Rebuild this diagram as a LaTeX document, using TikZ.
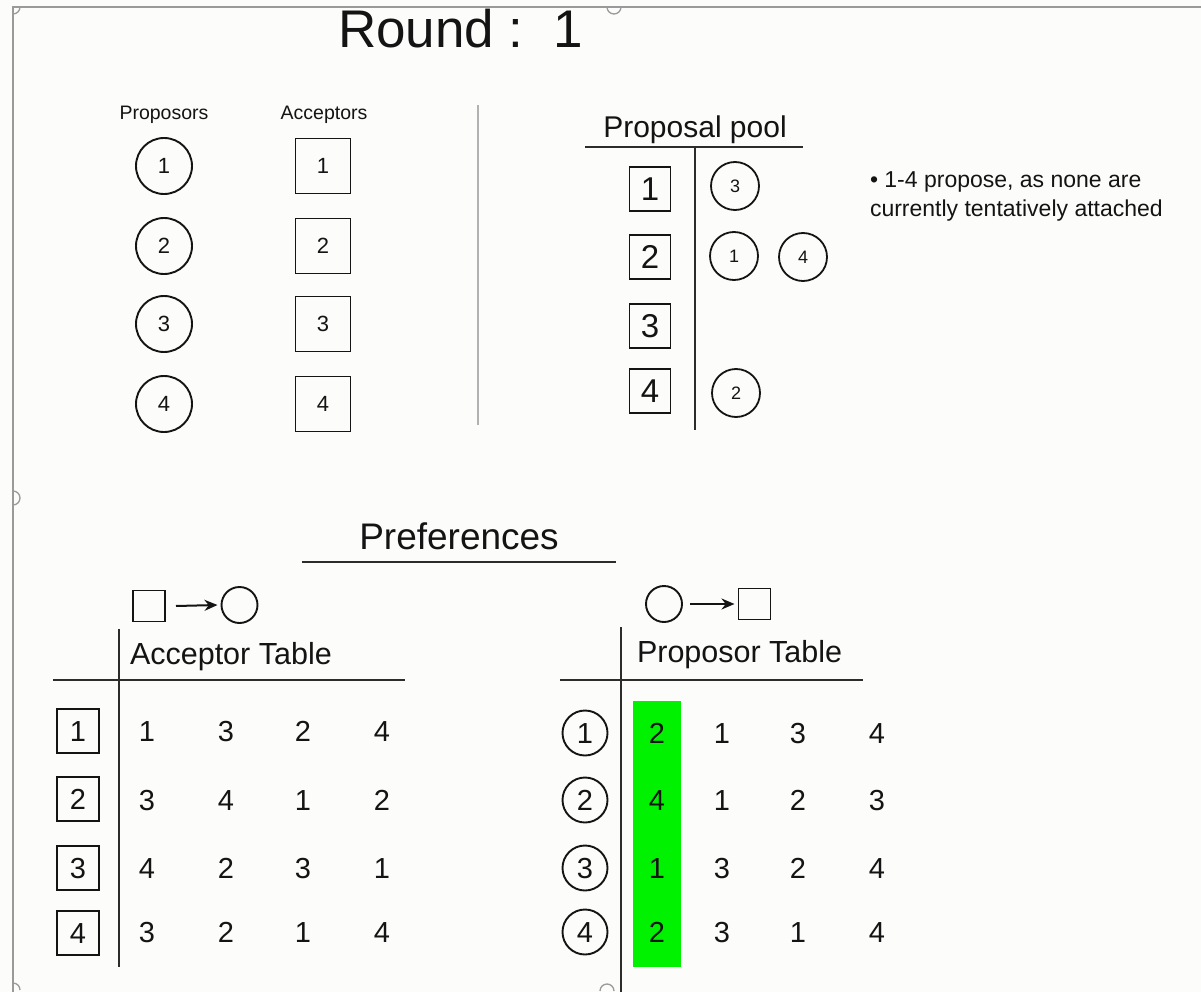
\documentclass[tikz,border=0pt]{standalone}
\usepackage{fontspec}
\setmainfont{Liberation Sans}
\usetikzlibrary{arrows.meta}
\definecolor{paper}{HTML}{FCFCFA}
\definecolor{framegray}{HTML}{9A9A9A}
\definecolor{ink}{HTML}{141414}
\definecolor{hl}{RGB}{0,242,0}
\newcommand\fsz[1]{\fontsize{#1}{#1}\selectfont}
\begin{document}
\begin{tikzpicture}[x=1pt,y=-1pt,
  every node/.style={text=ink, inner sep=0pt, outer sep=0pt},
  digit/.style={text height=#1, text depth=0pt},
  bigcirc/.style={circle, draw=ink, line width=1.9pt, minimum size=56pt, font=\fsz{22}, digit=15.8pt},
  bigsq/.style={rectangle, draw=ink, line width=1.9pt, minimum size=55pt, font=\fsz{22}, digit=15.8pt},
  poolsq/.style={rectangle, draw=ink, line width=1.9pt, minimum width=41pt, minimum height=44pt, font=\fsz{33}, digit=23.6pt},
  poolcirc/.style={circle, draw=ink, line width=1.8pt, minimum size=48pt, font=\fsz{18}, digit=12.9pt},
  rowsq/.style={rectangle, draw=ink, line width=1.9pt, minimum width=42pt, minimum height=44pt, font=\fsz{29}, digit=20.8pt},
  rowcirc/.style={circle, draw=ink, line width=1.9pt, minimum size=45pt, font=\fsz{29}, digit=20.8pt},
  cell/.style={font=\fsz{29}, digit=20.8pt},
  iconsq/.style={rectangle, draw=ink, line width=1.9pt, minimum width=32pt, minimum height=31pt},
  iconcirc/.style={circle, draw=ink, line width=1.9pt, minimum size=36pt},
  iconarrow/.style={draw=ink, line width=2pt, -{Stealth[length=13pt,width=11pt]}},
  tablerule/.style={draw=ink!90, line width=2.2pt},
  handle/.style={draw=framegray, line width=1.3pt}
]
% page and selection frame
\fill[paper] (0,0) rectangle (1201,992);
\useasboundingbox (0,0) rectangle (1201,992);
\draw[framegray, line width=1.4pt] (13,992) -- (13,7) -- (1201,7);
\draw[handle] (13,14) arc[start angle=90, end angle=0, radius=7];
\draw[handle] (607,7) arc[start angle=180, end angle=0, radius=7];
\draw[handle] (13,491) arc[start angle=-90, end angle=90, radius=7];
\draw[handle] (20,990) arc[start angle=0, end angle=-90, radius=7];
\draw[handle] (600,991) arc[start angle=180, end angle=360, radius=7];

% title
\node[anchor=base west, font=\fsz{53}] (title) at (338,48) {Round :\ \ 1};

% proposers and acceptors
\node[anchor=base, font=\fsz{19.5}] (lblP) at (164,120) {Proposors};
\node[anchor=base, font=\fsz{19.5}] (lblA) at (324,120) {Acceptors};
\foreach \i/\y in {1/166,2/246,3/324,4/404}{
  \node[bigcirc] (p\i) at (164,\y) {\i};
  \node[bigsq] (a\i) at (323,\y) {\i};
}
\draw[color=black!30, line width=2pt] (478,105) -- (478,425);

% proposal pool
\node[anchor=base, font=\fsz{30}] (pooltitle) at (695,138) {Proposal pool};
\draw[tablerule] (585,147) -- (803,147);
\draw[tablerule] (695,147) -- (695,430);
\foreach \i/\y in {1/189,2/257,3/326,4/391}{
  \node[poolsq] (q\i) at (650,\y) {\i};
}
\node[poolcirc] (pc3) at (735,186) {3};
\node[poolcirc] (pc1) at (734,256) {1};
\node[poolcirc] (pc4) at (803,257) {4};
\node[poolcirc] (pc2) at (736,393) {2};

% note
\node[anchor=base west, align=left, font=\fontsize{23}{29}\selectfont] (note) at (870,217)
  {• 1-4 propose, as none are\\currently tentatively attached};

% preferences heading
\node[anchor=base, font=\fsz{37}] (prefs) at (459,549) {Preferences};
\draw[draw=ink!90, line width=2pt] (302,562) -- (616,562);

% acceptor table
\node[iconsq] (isq1) at (149,606) {};
\node[iconcirc] (icc1) at (239.5,605) {};
\draw[iconarrow] ([xshift=11pt]isq1.east) -- ([xshift=-4pt]icc1.west);
\node[anchor=base west, font=\fsz{30.5}] (acctab) at (130,664) {Acceptor Table};
\draw[tablerule] (53,680) -- (405,680);
\draw[tablerule] (119,629) -- (119,967);
\foreach \r/\y/\sy/\va/\vb/\vc/\vd in {1/731/731/1/3/2/4, 2/800/799/3/4/1/2, 3/868/868/4/2/3/1, 4/932/933/3/2/1/4}{
  \node[rowsq] (ar\r) at (78,\sy) {\r};
  \node[cell] (ar\r c1) at (147,\y) {\va};
  \node[cell] (ar\r c2) at (226,\y) {\vb};
  \node[cell] (ar\r c3) at (303,\y) {\vc};
  \node[cell] (ar\r c4) at (382,\y) {\vd};
}

% proposer table
\node[iconcirc] (icc2) at (664,604) {};
\node[iconsq] (isq2) at (754.5,604) {};
\draw[iconarrow] ([xshift=8pt]icc2.east) -- ([xshift=-4pt]isq2.west);
\node[anchor=base west, font=\fsz{30.5}] (proptab) at (637,662) {Proposor Table};
\draw[tablerule] (560,680) -- (863,680);
\draw[tablerule] (621,627) -- (621,992);
\fill[hl] (633,701) rectangle (681,967);
\foreach \r/\y/\va/\vb/\vc/\vd in {1/733/2/1/3/4, 2/800/4/1/2/3, 3/868/1/3/2/4, 4/932/2/3/1/4}{
  \node[rowcirc] (pr\r) at (585,\y) {\r};
  \node[cell] (pr\r c1) at (657,\y) {\va};
  \node[cell] (pr\r c2) at (722,\y) {\vb};
  \node[cell] (pr\r c3) at (798,\y) {\vc};
  \node[cell] (pr\r c4) at (877,\y) {\vd};
}
\end{tikzpicture}
\end{document}
